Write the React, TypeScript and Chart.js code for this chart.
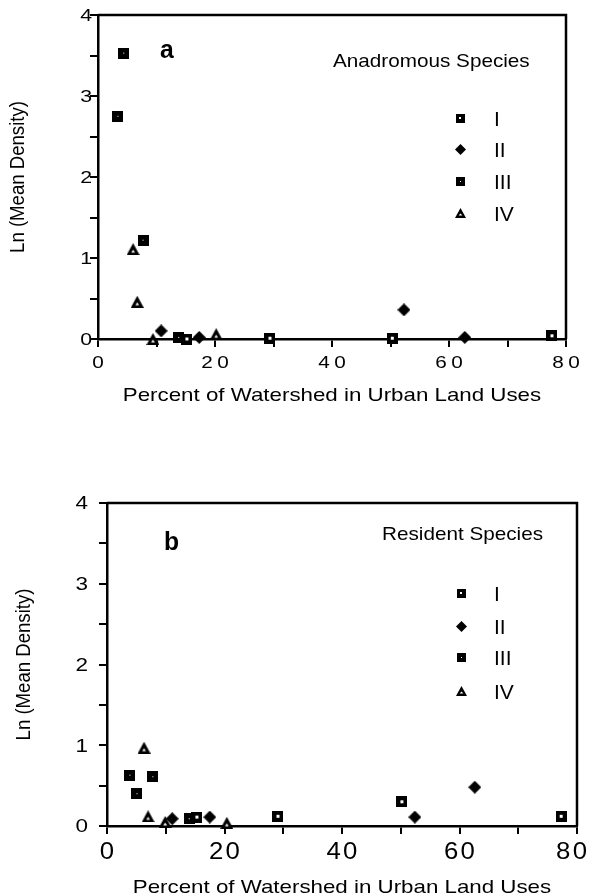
import React, { useEffect, useRef } from 'react';
import { Chart, registerables } from 'chart.js';

Chart.register(...registerables);

// ---------- data ----------
const SERIES_NAMES = ['I', 'II', 'III', 'IV'];
const X_TICK_LABELS = [0, 20, 40, 60, 80];
const Y_TICK_LABELS = [0, 1, 2, 3, 4];
const X_TITLE = 'Percent of Watershed in Urban Land Uses';
const Y_TITLE = 'Ln (Mean Density)';

// Panel a: Anadromous Species
const A_I_X = [15.2, 29.4, 50.3, 77.6];
const A_I_Y = [0.0, 0.01, 0.01, 0.04];
const A_II_X = [10.8, 17.3, 52.3, 62.7];
const A_II_Y = [0.1, 0.02, 0.36, 0.02];
const A_III_X = [4.4, 3.4, 7.7, 13.8];
const A_III_Y = [3.53, 2.75, 1.22, 0.02];
const A_IV_X = [6.0, 6.7, 9.4, 20.2];
const A_IV_Y = [1.11, 0.46, 0.0, 0.06];

// Panel b: Resident Species
const B_I_X = [15.3, 29.1, 50.2, 77.3];
const B_I_Y = [0.11, 0.12, 0.3, 0.12];
const B_II_X = [11.1, 17.5, 52.4, 62.6];
const B_II_Y = [0.09, 0.11, 0.11, 0.48];
const B_III_X = [3.9, 7.8, 5.1, 14.0];
const B_III_Y = [0.63, 0.61, 0.4, 0.09];
const B_IV_X = [6.3, 7.0, 9.9, 20.4];
const B_IV_Y = [0.97, 0.12, 0.05, 0.04];

// ---------- layout / style ----------
const W = 591;
const FONT = '"Liberation Sans", Arial, Helvetica, sans-serif';

type Panel = {
  letter: string;
  species: string;
  series: { x: number[]; y: number[] }[];
  canvasTop: number;
  canvasHeight: number;
  area: { left: number; right: number; top: number; bottom: number };
  yTickRight: number;
  yTickSize: number;
  xTickBase: number;
  xTickSize: number;
  xTickSx: number;
  xTickSpacing: number;
  xTitleBase: number;
  yTitleX: number;
  letterX: number;
  letterBase: number;
  speciesX: number;
  speciesBase: number;
  legendX: number;
  legendRows: number[];
  legendLabelX: number;
};

const PANELS: Panel[] = [
  {
    letter: 'a',
    species: 'Anadromous Species',
    series: [
      { x: A_I_X, y: A_I_Y },
      { x: A_II_X, y: A_II_Y },
      { x: A_III_X, y: A_III_Y },
      { x: A_IV_X, y: A_IV_Y },
    ],
    canvasTop: 0,
    canvasHeight: 445,
    area: { left: 98, right: 566, top: 15, bottom: 339 },
    yTickRight: 92,
    yTickSize: 17,
    xTickBase: 368,
    xTickSize: 17,
    xTickSx: 1.22,
    xTickSpacing: 3.5,
    xTitleBase: 401,
    yTitleX: 18,
    letterX: 160,
    letterBase: 58,
    speciesX: 333,
    speciesBase: 67,
    legendX: 460,
    legendRows: [118, 149, 181, 213],
    legendLabelX: 494,
  },
  {
    letter: 'b',
    species: 'Resident Species',
    series: [
      { x: B_I_X, y: B_I_Y },
      { x: B_II_X, y: B_II_Y },
      { x: B_III_X, y: B_III_Y },
      { x: B_IV_X, y: B_IV_Y },
    ],
    canvasTop: 450,
    canvasHeight: 445,
    area: { left: 107, right: 577, top: 503, bottom: 826 },
    yTickRight: 88,
    yTickSize: 18,
    xTickBase: 859,
    xTickSize: 23,
    xTickSx: 1.12,
    xTickSpacing: 2,
    xTitleBase: 893,
    yTitleX: 24,
    letterX: 164,
    letterBase: 550,
    speciesX: 382,
    speciesBase: 540,
    legendX: 461,
    legendRows: [593, 626, 657, 691],
    legendLabelX: 494,
  },
];

function makeMarker(kind: number, n: number): HTMLCanvasElement {
  const c = document.createElement('canvas');
  const ctx = c.getContext('2d') as CanvasRenderingContext2D;
  if (kind === 0) {
    c.width = n;
    c.height = n;
    ctx.fillStyle = '#000';
    ctx.fillRect(0, 0, n, n);
    const k = n >= 11 ? 3 : 2;
    const o = Math.floor((n - k) / 2);
    ctx.fillStyle = '#fff';
    ctx.fillRect(o, o, k, k);
  } else if (kind === 1) {
    const s = n + 2;
    c.width = s;
    c.height = s;
    ctx.fillStyle = '#000';
    ctx.beginPath();
    ctx.moveTo(s / 2, 0);
    ctx.lineTo(s, s / 2);
    ctx.lineTo(s / 2, s);
    ctx.lineTo(0, s / 2);
    ctx.closePath();
    ctx.fill();
  } else if (kind === 2) {
    c.width = n;
    c.height = n;
    ctx.fillStyle = '#000';
    ctx.fillRect(0, 0, n, n);
    ctx.fillStyle = '#fff';
    const o = Math.floor(n / 2);
    ctx.fillRect(o, o, 1, 1);
  } else {
    const w = n + 2;
    const h = n + 1;
    c.width = w;
    c.height = h;
    ctx.fillStyle = '#000';
    ctx.beginPath();
    ctx.moveTo(w / 2, 0);
    ctx.lineTo(w, h);
    ctx.lineTo(0, h);
    ctx.closePath();
    ctx.fill();
    ctx.fillStyle = '#fff';
    ctx.beginPath();
    ctx.moveTo(w / 2, h * 0.55);
    ctx.lineTo(w / 2 + 1.8, h - 2.5);
    ctx.lineTo(w / 2 - 1.8, h - 2.5);
    ctx.closePath();
    ctx.fill();
  }
  return c;
}

function drawText(
  ctx: CanvasRenderingContext2D,
  text: string,
  x: number,
  y: number,
  size: number,
  opts: {
    sx?: number;
    align?: 'left' | 'center' | 'right';
    baseline?: CanvasTextBaseline;
    spacing?: number;
    weight?: string;
    rotate?: boolean;
    maxRight?: number;
  } = {}
) {
  const {
    sx = 1.2,
    align = 'center',
    baseline = 'alphabetic',
    spacing = 0,
    weight = 'normal',
    rotate = false,
    maxRight,
  } = opts;
  ctx.save();
  ctx.font = `${weight} ${size}px ${FONT}`;
  (ctx as any).letterSpacing = '0px';
  const base = ctx.measureText(text).width;
  const w = base + spacing * Math.max(0, text.length - 1);
  let dx = 0;
  if (align === 'center') dx = -w / 2;
  else if (align === 'right') dx = -w;
  let tx = x;
  if (maxRight !== undefined && !rotate) {
    const right = x + (dx + w) * sx;
    if (right > maxRight) tx -= right - maxRight;
  }
  ctx.translate(tx, y);
  ctx.scale(sx, 1);
  if (rotate) ctx.rotate(-Math.PI / 2);
  (ctx as any).letterSpacing = `${spacing}px`;
  ctx.textAlign = 'left';
  ctx.textBaseline = baseline;
  ctx.fillStyle = '#000';
  ctx.fillText(text, dx, 0);
  ctx.restore();
}

function buildChart(canvas: HTMLCanvasElement, panel: Panel): Chart {
  const markers = [0, 1, 2, 3].map((k) => makeMarker(k, 11));
  const legendMarkers = [0, 1, 2, 3].map((k) => makeMarker(k, 9));
  const cTop = panel.canvasTop;
  const a = panel.area;

  const decor = {
    id: 'decor' + panel.letter,
    afterDraw(chart: any) {
      const ctx: CanvasRenderingContext2D = chart.ctx;
      const ca = chart.chartArea;
      const xs = chart.scales.x;
      const ys = chart.scales.y;
      // frame (top & right)
      ctx.save();
      ctx.strokeStyle = '#000';
      ctx.lineWidth = 2.5;
      ctx.beginPath();
      ctx.moveTo(ca.left, ca.top);
      ctx.lineTo(ca.right, ca.top);
      ctx.lineTo(ca.right, ca.bottom);
      ctx.stroke();
      ctx.restore();

      // tick labels
      Y_TICK_LABELS.forEach((v) => {
        const py = ys.getPixelForValue(v);
        drawText(ctx, String(v), panel.yTickRight, py + panel.yTickSize * 0.36, panel.yTickSize, {
          sx: 1.25,
          align: 'right',
        });
      });
      X_TICK_LABELS.forEach((v) => {
        const px = xs.getPixelForValue(v);
        drawText(ctx, String(v), px, panel.xTickBase - cTop, panel.xTickSize, {
          sx: panel.xTickSx,
          spacing: panel.xTickSpacing,
          maxRight: W - 4,
        });
      });

      // axis titles
      drawText(ctx, X_TITLE, (ca.left + ca.right) / 2, panel.xTitleBase - cTop, 18.6, { sx: 1.2 });
      drawText(ctx, Y_TITLE, panel.yTitleX, (ca.top + ca.bottom) / 2, 18.6, {
        sx: 1.1,
        rotate: true,
        baseline: 'middle',
      });

      // panel letter & species
      drawText(ctx, panel.letter, panel.letterX, panel.letterBase - cTop, 26, {
        sx: 0.95,
        align: 'left',
        weight: 'bold',
      });
      drawText(ctx, panel.species, panel.speciesX, panel.speciesBase - cTop, 17.7, {
        sx: 1.17,
        align: 'left',
      });

      // legend
      SERIES_NAMES.forEach((name, i) => {
        const m = legendMarkers[i];
        const ry = panel.legendRows[i] - cTop;
        ctx.drawImage(m, Math.round(panel.legendX - m.width / 2), Math.round(ry - m.height / 2));
        drawText(ctx, name, panel.legendLabelX, ry + 7.5, 21, { sx: 1.0, align: 'left' });
      });
    },
  };

  return new Chart(canvas, {
    type: 'scatter',
    data: {
      datasets: panel.series.map((s, i) => ({
        label: SERIES_NAMES[i],
        data: s.x.map((x, j) => ({ x, y: s.y[j] })),
        pointStyle: markers[i] as any,
        pointRadius: 6,
        pointHoverRadius: 6,
        backgroundColor: '#000',
        borderColor: '#000',
        clip: false as any,
      })),
    },
    options: {
      responsive: false,
      animation: false,
      events: [],
      layout: {
        autoPadding: false,
        padding: { left: 0, top: a.top - cTop, right: W - a.right, bottom: 0 },
      },
      plugins: {
        legend: { display: false },
        tooltip: { enabled: false },
      },
      scales: {
        x: {
          type: 'linear',
          position: 'bottom',
          min: 0,
          max: 80,
          ticks: { stepSize: 10, display: false },
          grid: { drawOnChartArea: false, drawTicks: true, tickLength: 8, color: '#000', lineWidth: 2 },
          border: { display: true, color: '#000', width: 2.5 },
          afterFit: (s: any) => {
            s.height = panel.canvasHeight - (a.bottom - cTop);
          },
        },
        y: {
          type: 'linear',
          min: 0,
          max: 4,
          ticks: { stepSize: 0.5, display: false },
          grid: { drawOnChartArea: false, drawTicks: true, tickLength: 8, color: '#000', lineWidth: 2 },
          border: { display: true, color: '#000', width: 2.5 },
          afterFit: (s: any) => {
            s.width = a.left;
          },
        },
      },
    },
    plugins: [decor],
  } as any);
}

export default function App() {
  const r1 = useRef<HTMLCanvasElement>(null);
  const r2 = useRef<HTMLCanvasElement>(null);

  useEffect(() => {
    const charts: Chart[] = [];
    if (r1.current) charts.push(buildChart(r1.current, PANELS[0]));
    if (r2.current) charts.push(buildChart(r2.current, PANELS[1]));
    return () => charts.forEach((c) => c.destroy());
  }, []);

  return (
    <div style={{ position: 'absolute', left: 0, top: 0, width: W, height: 895, background: '#fff' }}>
      <canvas
        ref={r1}
        width={W}
        height={PANELS[0].canvasHeight}
        style={{ position: 'absolute', left: 0, top: PANELS[0].canvasTop }}
      />
      <canvas
        ref={r2}
        width={W}
        height={PANELS[1].canvasHeight}
        style={{ position: 'absolute', left: 0, top: PANELS[1].canvasTop }}
      />
    </div>
  );
}
